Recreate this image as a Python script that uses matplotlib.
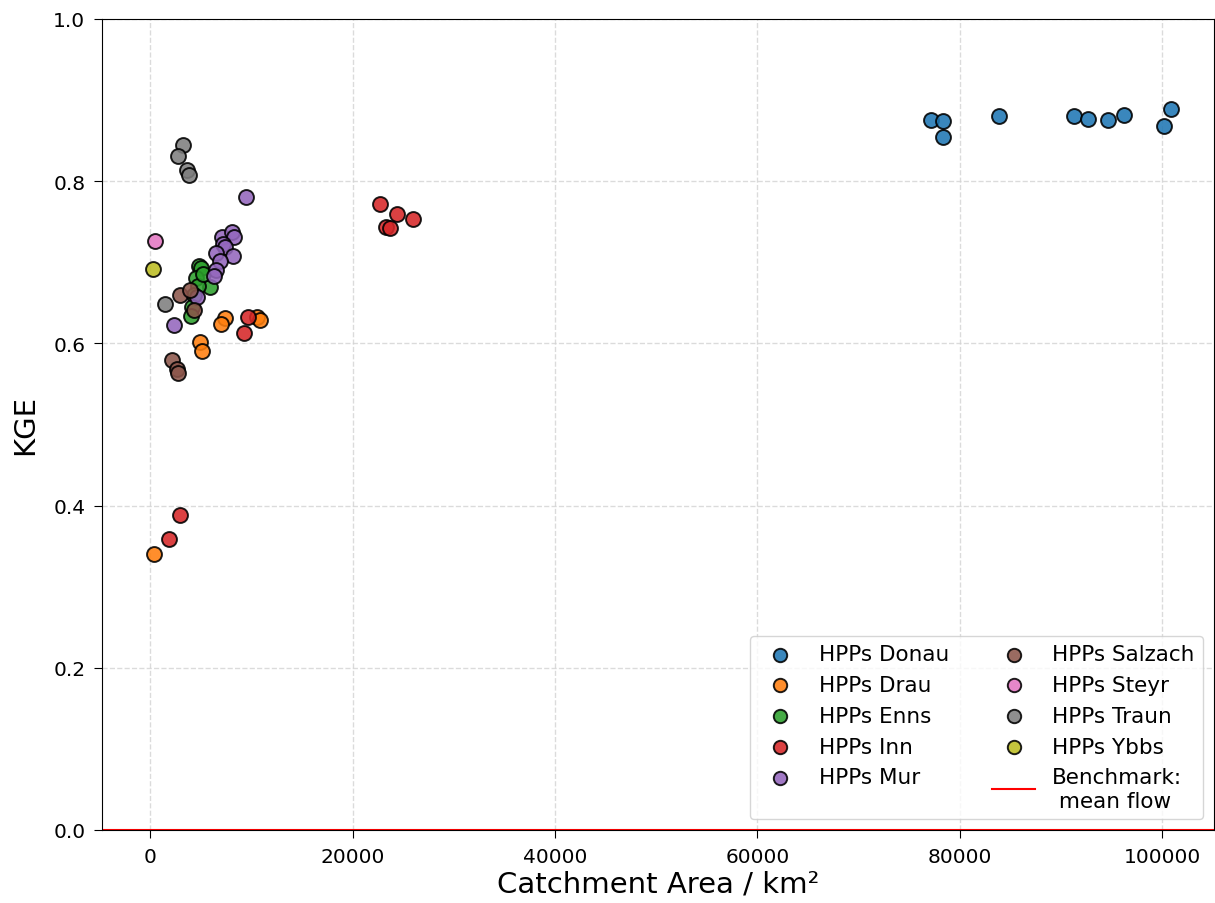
import matplotlib
matplotlib.use("Agg")
import matplotlib.pyplot as plt

# ---- data (catchment area km², KGE) ----
donau_area = [77100, 78300, 78300, 83900, 91300, 92700, 94600, 96200, 100200, 100900]
donau_kge = [0.876, 0.874, 0.855, 0.880, 0.881, 0.877, 0.875, 0.882, 0.868, 0.889]

drau_area = [7400, 7000, 10600, 10900, 4950, 5100, 400]
drau_kge = [0.631, 0.624, 0.633, 0.629, 0.602, 0.591, 0.340]

enns_area = [4850, 5000, 4550, 5950, 4750, 4300, 4100, 4000, 5200]
enns_kge = [0.695, 0.693, 0.681, 0.670, 0.671, 0.660, 0.645, 0.634, 0.685]

inn_area = [22700, 24400, 26000, 23300, 23700, 9700, 9300, 2950, 1900]
inn_kge = [0.772, 0.759, 0.754, 0.744, 0.742, 0.633, 0.613, 0.389, 0.359]

mur_area = [7100, 8050, 8300, 7250, 7400, 6550, 8200, 6900, 6550, 6300, 4600, 2400, 9450]
mur_kge = [0.731, 0.737, 0.731, 0.722, 0.719, 0.712, 0.708, 0.701, 0.690, 0.683, 0.657, 0.623, 0.780]

salzach_area = [2950, 3900, 4350, 2200, 2650, 2800]
salzach_kge = [0.660, 0.666, 0.641, 0.579, 0.568, 0.564]

steyr_area = [500]
steyr_kge = [0.726]

traun_area = [3300, 2750, 3650, 3800, 1450]
traun_kge = [0.845, 0.831, 0.814, 0.808, 0.649]

ybbs_area = [270]
ybbs_kge = [0.692]

groups = [
    ("HPPs Donau", donau_area, donau_kge),
    ("HPPs Drau", drau_area, drau_kge),
    ("HPPs Enns", enns_area, enns_kge),
    ("HPPs Inn", inn_area, inn_kge),
    ("HPPs Mur", mur_area, mur_kge),
    ("HPPs Salzach", salzach_area, salzach_kge),
    ("HPPs Steyr", steyr_area, steyr_kge),
    ("HPPs Traun", traun_area, traun_kge),
    ("HPPs Ybbs", ybbs_area, ybbs_kge),
]
benchmark_kge = 0.0
colors = plt.rcParams['axes.prop_cycle'].by_key()['color']

fig = plt.figure(figsize=(12.15, 9.04), dpi=100)
ax = fig.add_axes([102/1215, 73/904, (1214-102)/1215, 811/904])

for i, (name, xs, ys) in enumerate(groups):
    ax.scatter(xs, ys, s=115, color=colors[i], edgecolor='black', linewidth=1.4,
               alpha=0.88, label=name, zorder=3)

ax.axhline(benchmark_kge, color='red', linewidth=1.5, label='Benchmark:\n mean flow', zorder=2)

ax.set_xlim(-4750, 105100)
ax.set_ylim(0, 1.0)
ax.grid(True, linestyle='--', color='lightgray', alpha=0.8, linewidth=1)
ax.set_axisbelow(True)
ax.tick_params(labelsize=14.5, length=6, pad=6)
ax.set_xlabel("Catchment Area / km²", fontsize=21, labelpad=3)
ax.set_ylabel("KGE", fontsize=21, labelpad=10)
ax.set_xticks([0, 20000, 40000, 60000, 80000, 100000])
ax.set_yticks([0.0, 0.2, 0.4, 0.6, 0.8, 1.0])

ax.legend(ncol=2, loc='lower right', fontsize=15.5, borderaxespad=0.5, markerscale=0.9)

fig.savefig("out.png", dpi=100)
